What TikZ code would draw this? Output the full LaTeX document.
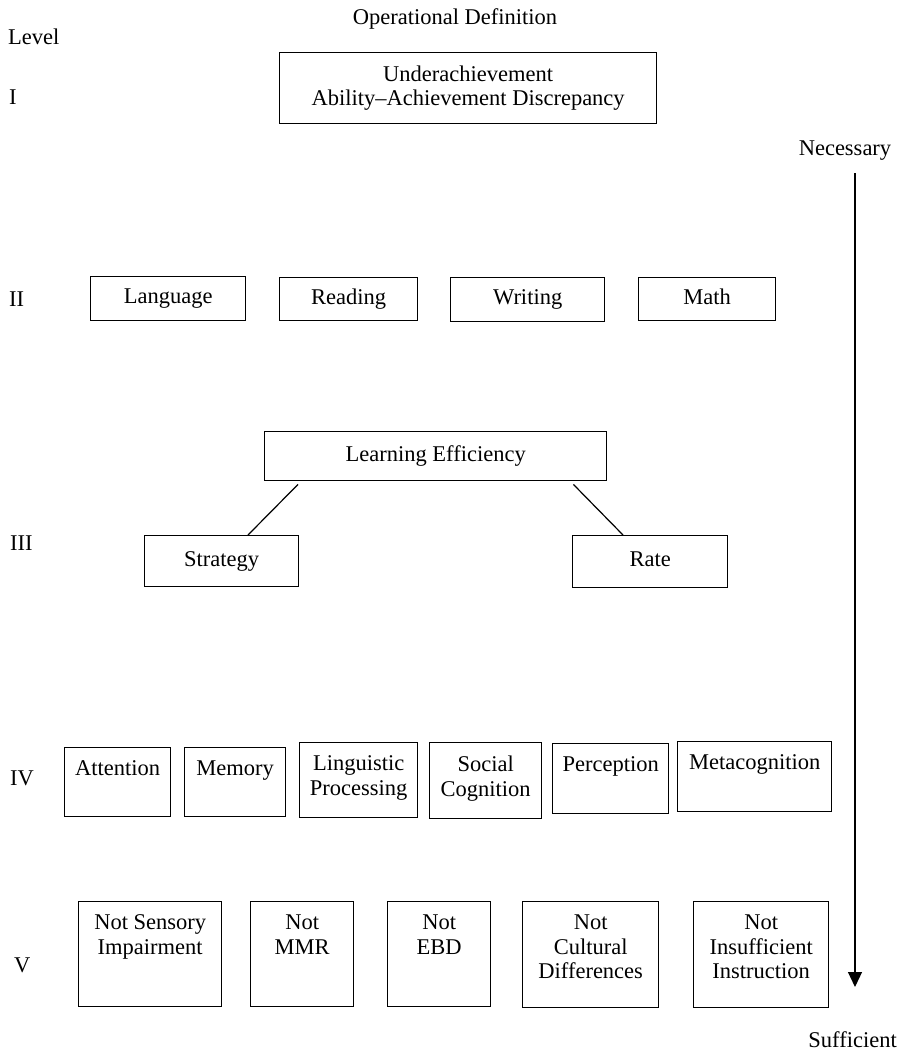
\documentclass[tikz,border=0pt]{standalone}
\usepackage{fontspec}
\setmainfont{Liberation Serif}
\usetikzlibrary{arrows.meta}
\tikzset{
  bx/.style={draw, line width=1.4pt, inner sep=0pt, anchor=north west},
  txt/.style={font=\fontsize{22.5}{24.5}\selectfont, inner sep=0pt, align=center},
  one/.style={text height=15.4pt, text depth=4.9pt},
  lvl/.style={txt, anchor=base west},
  conn/.style={line width=1.2pt},
}
\newcommand\cbox[6]{\node[bx, txt, one, minimum width={#4-#2}, minimum height={#5-#3}] (#1) at (#2,#3) {#6};}
\newcommand\tbox[6]{\node[bx, minimum width={#4-#2}, minimum height={#5-#3}] (#1) at (#2,#3) {};
  \node[txt, anchor=north] (#1-t) at ([yshift=-13.8pt]#1.north) {#6};}
\begin{document}
\begin{tikzpicture}[x=1pt,y=-1pt]
\useasboundingbox (0,0) rectangle (899,1053);
% headings and level labels
\node[txt, anchor=base] (title) at (455,24) {Operational Definition};
\node[lvl] (level) at (8,44) {Level};
\node[lvl] (l1) at (9,104) {I};
\node[lvl] (l2) at (9,306) {II};
\node[lvl] (l3) at (10,550) {III};
\node[lvl] (l4) at (10,785) {IV};
\node[lvl] (l5) at (14,972) {V};
% level I
\node[bx, txt, minimum width=377, minimum height=71] (ua) at (279,52)
  {Underachievement\\Ability--Achievement Discrepancy};
% level II
\cbox{lang}{90}{276}{245}{320}{Language}
\cbox{read}{279}{277}{417}{320}{Reading}
\cbox{writ}{450}{277}{604}{321}{Writing}
\cbox{math}{638}{277}{775}{320}{Math}
% level III
\cbox{le}{264}{431}{606}{480}{Learning Efficiency}
\cbox{str}{144}{535}{298}{586}{Strategy}
\cbox{rate}{572}{535}{727}{587}{Rate}
\draw[conn] ([xshift=34pt,yshift=-3pt]le.south west) -- ([xshift=104pt]str.north west);
\draw[conn] ([xshift=-34pt,yshift=-3pt]le.south east) -- ([xshift=51pt]rate.north west);
% level IV
\tbox{att}{64}{747}{170}{816}{Attention}
\tbox{mem}{184}{747}{285}{816}{Memory}
\tbox{ling}{299}{742}{417}{817}{Linguistic\\Processing}
\tbox{soc}{429}{742}{541}{818}{Social\\Cognition}
\tbox{perc}{552}{743}{668}{813}{Perception}
\tbox{meta}{677}{741}{831}{811}{Metacognition}
% level V
\tbox{sens}{78}{901}{221}{1006}{Not Sensory\\Impairment}
\tbox{mmr}{250}{901}{353}{1006}{Not\\MMR}
\tbox{ebd}{387}{901}{490}{1006}{Not\\EBD}
\tbox{cult}{522}{901}{658}{1007}{Not\\Cultural\\Differences}
\tbox{ins}{693}{901}{828}{1007}{Not\\Insufficient\\Instruction}
% necessary -> sufficient arrow
\node[txt, anchor=base] (nec) at (845,155) {Necessary};
\node[txt, anchor=base east] (suf) at (897,1047) {Sufficient};
\coordinate (a0) at (855,173);
\coordinate (a1) at (855,987);
\draw[conn, -{Triangle[width=14pt,length=15pt]}] (a0) -- (a1);
\end{tikzpicture}
\end{document}
